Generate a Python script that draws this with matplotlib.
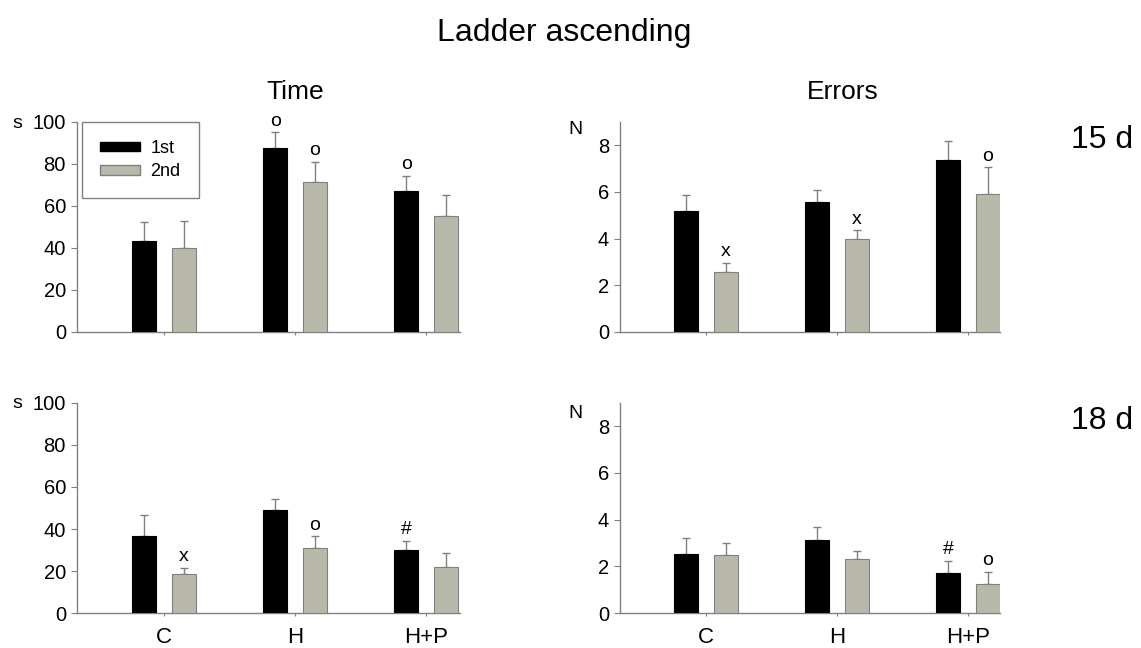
# =============================================================================
# Import Libraries
# =============================================================================
import numpy as np
from matplotlib import pyplot as plt
from matplotlib.patches import Patch

plt.rcParams['font.family'] = ['Liberation Sans', 'DejaVu Sans']

# =============================================================================
# Data
# =============================================================================
groups = ["C", "H", "H+P"]
series = ["1st", "2nd"]

# time (s), 15 d
time15_1st = [43.5, 87.5, 67.0]
time15_1st_err = [9.0, 7.5, 7.5]
time15_2nd = [40.0, 71.5, 55.0]
time15_2nd_err = [13.0, 9.5, 10.0]

# errors (N), 15 d
err15_1st = [5.2, 5.55, 7.35]
err15_1st_err = [0.65, 0.55, 0.85]
err15_2nd = [2.55, 4.0, 5.9]
err15_2nd_err = [0.4, 0.35, 1.15]

# time (s), 18 d
time18_1st = [36.5, 49.0, 30.0]
time18_1st_err = [10.0, 5.5, 4.5]
time18_2nd = [18.5, 31.0, 22.0]
time18_2nd_err = [3.0, 5.5, 6.5]

# errors (N), 18 d
err18_1st = [2.55, 3.15, 1.7]
err18_1st_err = [0.65, 0.55, 0.55]
err18_2nd = [2.5, 2.3, 1.25]
err18_2nd_err = [0.5, 0.35, 0.5]

# significance marks, one per bar (1st, 2nd) per group
marks_time15 = [["", ""], ["o", "o"], ["o", ""]]
marks_err15 = [["", "x"], ["", "x"], ["", "o"]]
marks_time18 = [["", "x"], ["", "o"], ["#", ""]]
marks_err18 = [["", ""], ["", ""], ["#", "o"]]

# =============================================================================
# Style
# =============================================================================
BLACK = "#000000"
GREY = "#b9b9ab"
LINE = "#808080"
W = 0.183
OFF = 0.152

# =============================================================================
# Panel drawing
# =============================================================================
def draw_panel(ax, v1, e1, v2, e2, marks, ymax, yticks, xlim, show_x):
    x = np.arange(len(groups))
    ax.bar(x - OFF, v1, W, color=BLACK, edgecolor=BLACK, linewidth=0.8,
           zorder=3)
    ax.bar(x + OFF, v2, W, color=GREY, edgecolor=LINE, linewidth=0.8,
           zorder=3)
    # only the upper half of each error bar is drawn
    ax.errorbar(x - OFF, v1, yerr=[np.zeros(len(e1)), e1], fmt="none",
                ecolor=LINE, elinewidth=1, capsize=3, capthick=1, zorder=2)
    ax.errorbar(x + OFF, v2, yerr=[np.zeros(len(e2)), e2], fmt="none",
                ecolor=LINE, elinewidth=1, capsize=3, capthick=1, zorder=2)

    for i in range(len(groups)):
        for j, (v, e) in enumerate([(v1[i], e1[i]), (v2[i], e2[i])]):
            m = marks[i][j]
            if m:
                xpos = x[i] - OFF if j == 0 else x[i] + OFF
                ax.annotate(m, (xpos, v + e), xytext=(0, 2),
                            textcoords="offset points", ha="center",
                            va="bottom", fontsize=14)

    ax.set_ylim(0, ymax)
    ax.set_yticks(yticks)
    ax.set_xlim(*xlim)
    ax.set_xticks(x)
    if show_x:
        ax.set_xticklabels(groups, fontsize=16)
    else:
        ax.set_xticklabels([])
    for s in ["top", "right"]:
        ax.spines[s].set_visible(False)
    for s in ["left", "bottom"]:
        ax.spines[s].set_color(LINE)
        ax.spines[s].set_linewidth(1)
    ax.tick_params(axis="y", length=4, color=LINE, labelsize=14.5, pad=4)
    ax.tick_params(axis="x", length=2, color=LINE, pad=8)

# =============================================================================
# Figure
# =============================================================================
fig = plt.figure(figsize=(11.41, 6.48), dpi=100)

ax_t15 = fig.add_axes([0.0675, 0.4877, 0.3357, 0.3241])
ax_e15 = fig.add_axes([0.5434, 0.4877, 0.3330, 0.3241])
ax_t18 = fig.add_axes([0.0675, 0.0540, 0.3357, 0.3241])
ax_e18 = fig.add_axes([0.5434, 0.0540, 0.3330, 0.3241])

xl_left = (-0.664, 2.26)
xl_right = (-0.656, 2.245)

draw_panel(ax_t15, time15_1st, time15_1st_err, time15_2nd, time15_2nd_err,
           marks_time15, 100, range(0, 101, 20), xl_left, False)
draw_panel(ax_e15, err15_1st, err15_1st_err, err15_2nd, err15_2nd_err,
           marks_err15, 9, range(0, 9, 2), xl_right, False)
draw_panel(ax_t18, time18_1st, time18_1st_err, time18_2nd, time18_2nd_err,
           marks_time18, 100, range(0, 101, 20), xl_left, True)
draw_panel(ax_e18, err18_1st, err18_1st_err, err18_2nd, err18_2nd_err,
           marks_err18, 9, range(0, 9, 2), xl_right, True)

# legend
handles = [Patch(facecolor=BLACK, edgecolor=BLACK, label=series[0]),
           Patch(facecolor=GREY, edgecolor=LINE, label=series[1])]
leg = ax_t15.legend(handles=handles, loc="upper left",
                    bbox_to_anchor=(0.013, 1.0), fontsize=13,
                    handlelength=2.2, handleheight=0.45, handletextpad=0.6,
                    borderpad=1.0, borderaxespad=0, labelspacing=0.35,
                    fancybox=False, framealpha=1)
leg.get_frame().set_edgecolor(LINE)
leg.get_frame().set_linewidth(1)

# unit labels
fig.text(17 / 1141, 1 - 123 / 648, "s", fontsize=14, ha="center", va="center")
fig.text(17 / 1141, 1 - 403 / 648, "s", fontsize=14, ha="center", va="center")
fig.text(575 / 1141, 1 - 130 / 648, "N", fontsize=14, ha="center", va="center")
fig.text(575 / 1141, 1 - 414 / 648, "N", fontsize=14, ha="center", va="center")

# titles
fig.text(564 / 1141, 1 - 33 / 648, "Ladder ascending", fontsize=23,
         ha="center", va="center")
fig.text(295 / 1141, 1 - 92 / 648, "Time", fontsize=19, ha="center",
         va="center")
fig.text(843 / 1141, 1 - 92 / 648, "Errors", fontsize=19, ha="center",
         va="center")
fig.text(1102 / 1141, 1 - 140 / 648, "15 d", fontsize=23, ha="center",
         va="center")
fig.text(1102 / 1141, 1 - 421 / 648, "18 d", fontsize=23, ha="center",
         va="center")

fig.savefig("out.png", dpi=100, facecolor="white")
